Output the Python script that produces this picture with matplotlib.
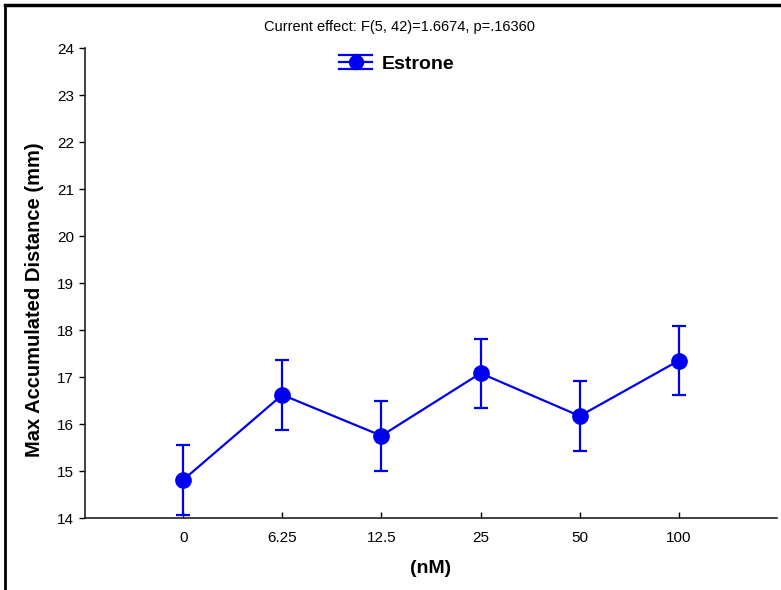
import matplotlib.pyplot as plt
from matplotlib.legend_handler import HandlerBase
from matplotlib.lines import Line2D

# Data
concentrations = ["0", "6.25", "12.5", "25", "50", "100"]
means = [14.81, 16.62, 15.75, 17.08, 16.17, 17.35]
upper = [15.55, 17.36, 16.49, 17.81, 16.91, 18.09]
title_text = "Current effect: F(5, 42)=1.6674, p=.16360"
series_name = "Estrone"

errors = [u - m for u, m in zip(upper, means)]
x = list(range(len(concentrations)))

BLUE = "#0000f0"
narrow = ["Liberation Sans Narrow", "Liberation Sans", "DejaVu Sans"]
bold_font = ["Liberation Sans", "DejaVu Sans"]


class StatisticaHandle(HandlerBase):
    """Legend key drawn as a line with marker between two wide caps."""

    def create_artists(self, legend, orig_handle, xdescent, ydescent,
                       width, height, fontsize, trans):
        mid = height / 2 - ydescent
        gap = height * 0.55
        arts = []
        for yy in (mid - gap, mid, mid + gap):
            arts.append(Line2D([-xdescent, width - xdescent], [yy, yy],
                               color=BLUE, lw=1.6, transform=trans))
        arts.append(Line2D([width / 2 - xdescent] * 2, [mid - gap, mid + gap],
                           color=BLUE, lw=1.6, transform=trans))
        arts.append(Line2D([width / 2 - xdescent], [mid], marker="o",
                           markersize=10, color=BLUE, transform=trans))
        return arts


fig = plt.figure(figsize=(7.81, 5.90), dpi=100)
ax = fig.add_axes([85 / 781, 1 - 518 / 590, (777 - 85) / 781, (518 - 48) / 590])

eb = ax.errorbar(x, means, yerr=errors, color=BLUE, lw=1.6, marker="o",
                 markersize=11, capsize=5, capthick=1.6, elinewidth=1.6,
                 label=series_name)

ax.set_xlim(-0.99, 5.99)
ax.set_ylim(14, 24)
ax.set_yticks(range(14, 25))
ax.set_xticks(x)
ax.set_xticklabels(concentrations)

for lab in ax.get_xticklabels() + ax.get_yticklabels():
    lab.set_family(narrow)
    lab.set_fontsize(11)

ax.tick_params(axis="y", direction="out", length=4, width=1, pad=4)
ax.tick_params(axis="x", direction="in", length=4, width=1, pad=9)
ax.spines["top"].set_visible(False)
ax.spines["right"].set_visible(False)
for s in ("left", "bottom"):
    ax.spines[s].set_linewidth(1.2)
    ax.spines[s].set_color("#222222")

ax.set_ylabel("Max Accumulated Distance (mm)", family=bold_font,
              fontweight="bold", fontsize=14.5)
ax.yaxis.set_label_coords(-0.059, 0.465)
ax.set_xlabel("(nM)", family=bold_font, fontweight="bold",
              fontsize=14, labelpad=11)

fig.text(400 / 781, 1 - 27 / 590, title_text, ha="center", va="center",
         family=narrow, fontsize=10.5)

leg = ax.legend([eb], [series_name], loc="center",
                bbox_to_anchor=(397 / 781, 1 - 64 / 590),
                bbox_transform=fig.transFigure, frameon=False,
                prop={"family": bold_font, "weight": "bold", "size": 14},
                handlelength=1.7, handletextpad=0.5,
                handler_map={type(eb): StatisticaHandle()})

# outer frame around the picture (left and top edges visible)
fig.add_artist(Line2D([5 / 781, 5 / 781], [0, 1 - 5 / 590],
                      transform=fig.transFigure, color="black", lw=2))
fig.add_artist(Line2D([5 / 781, 1], [1 - 5 / 590, 1 - 5 / 590],
                      transform=fig.transFigure, color="black", lw=2.5))

fig.savefig("out.png", dpi=100)
